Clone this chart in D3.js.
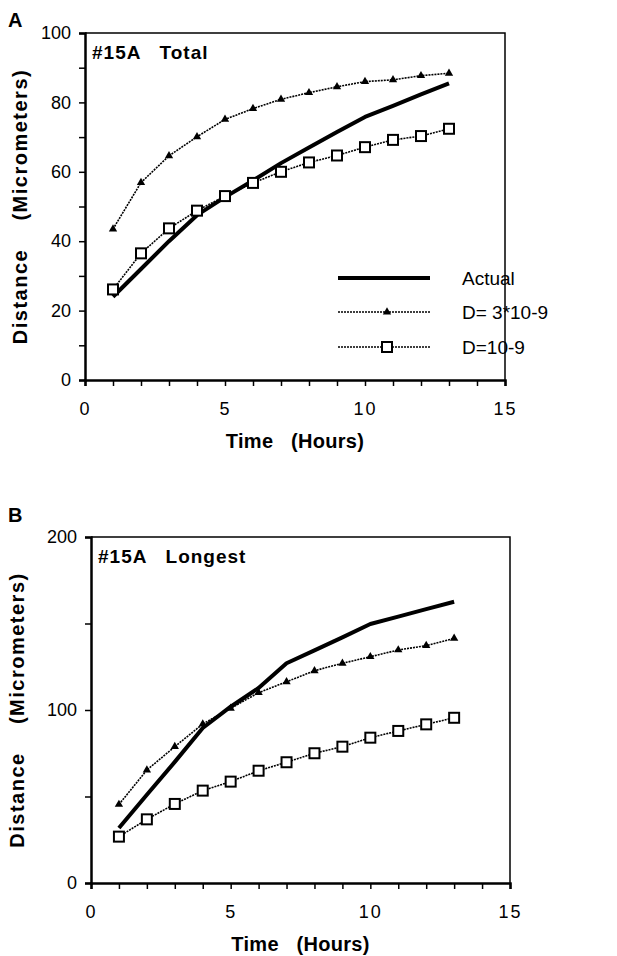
<html>
<head>
  <style>
    body { margin: 0; background: #fff; }
    text { font-family: "Liberation Sans", Arial, sans-serif; fill: #000; }
    .bold { font-weight: bold; white-space: pre; }
  </style>
</head>
<body>
<div id="chartContainer"></div>
<script src="https://cdn.jsdelivr.net/npm/d3@7"></script>
<script type="text/javascript">
  // hours, same for every series
  var hours = [1, 2, 3, 4, 5, 6, 7, 8, 9, 10, 11, 12, 13];

  // panel A - total distance
  var totalActual = [24, 32, 40, 47.5, 52.7, 57.5, 62.5, 67, 71.5, 75.8, 79, 82.3, 85.5];
  var totalD3 = [43.5, 56.9, 64.6, 70.1, 75.1, 78.2, 80.9, 82.8, 84.5, 86.0, 86.5, 87.7, 88.4];
  var totalD1 = [26.1, 36.5, 43.7, 48.8, 53.0, 56.8, 60.0, 62.7, 64.7, 67.1, 69.2, 70.3, 72.4];

  // panel B - longest distance
  var longestActual = [31.8, 51, 70, 89.6, 101.9, 112.7, 127, 134.5, 142, 149.7, 154, 158.3, 162.6];
  var longestD3 = [45.4, 65.3, 78.8, 91.9, 101, 110, 116.3, 122.7, 127, 130.8, 134.7, 137.2, 141.4];
  var longestD1 = [26.8, 36.8, 45.7, 53.4, 58.6, 64.9, 69.8, 75, 78.8, 84, 87.9, 91.7, 95.5];

  // tick labels
  var xLabels = [0, 5, 10, 15];
  var yLabelsA = [0, 20, 40, 60, 80, 100];
  var yLabelsB = [0, 100, 200];

  var legendNames = ["Actual", "D= 3*10-9", "D=10-9"];

  var svg = d3.select("#chartContainer").append("svg")
    .attr("width", 617).attr("height", 956);

  function drawPanel(opt) {
    var g = svg.append("g");
    var x = d3.scaleLinear().domain([0, 15]).range([opt.left, opt.left + opt.width]);
    var y = d3.scaleLinear().domain([0, opt.yMax]).range([opt.top + opt.height, opt.top]);

    // thin frame on top and right
    g.append("path")
      .attr("d", "M" + x(0) + "," + y(opt.yMax) + "H" + x(15) + "V" + y(0))
      .attr("fill", "none").attr("stroke", "#000").attr("stroke-width", 1.5);

    // y axis: major ticks labelled, minor ticks between
    var yAxis = d3.axisLeft(y).tickValues(d3.range(0, opt.yMax + 1, opt.yMinor))
      .tickSize(6).tickFormat(function (d) { return opt.yLabels.indexOf(d) >= 0 ? d : ""; });
    var ya = g.append("g").attr("transform", "translate(" + x(0) + ",0)").call(yAxis);
    ya.select(".domain").attr("stroke-width", 2.5);
    ya.selectAll(".tick line").attr("stroke-width", 1.5);
    ya.selectAll("text").style("font-size", "18px").attr("x", -14);

    var xAxis = d3.axisBottom(x).tickValues(d3.range(0, 16, 1)).tickSize(6)
      .tickFormat(function (d) { return xLabels.indexOf(d) >= 0 ? d : ""; });
    var xa = g.append("g").attr("transform", "translate(0," + y(0) + ")").call(xAxis);
    xa.select(".domain").attr("stroke-width", 2.5);
    xa.selectAll(".tick line").attr("stroke-width", 1.5);
    xa.selectAll("text").style("font-size", "18px").attr("dy", "1.45em").attr("letter-spacing", "2px");

    // panel letter and inner title
    g.append("text").attr("class", "bold").attr("x", 8).attr("y", opt.letterY)
      .style("font-size", "20px").text(opt.letter);
    g.append("text").attr("class", "bold").attr("x", x(0) + 7).attr("y", opt.top + 26)
      .style("font-size", "19px").style("letter-spacing", "1px").text(opt.title);

    // axis titles
    g.append("text").attr("class", "bold")
      .attr("transform", "translate(" + opt.titleX + "," + (opt.top + opt.height / 2) + ") rotate(-90)")
      .attr("text-anchor", "middle").style("font-size", "20px").style("letter-spacing", "1.5px")
      .text("Distance    (Micrometers)");
    g.append("text").attr("class", "bold")
      .attr("x", x(7.5)).attr("y", y(0) + 68).attr("text-anchor", "middle")
      .style("font-size", "20px").style("letter-spacing", "0.3px").text("Time   (Hours)");

    var line = d3.line().x(function (d, i) { return x(hours[i]); }).y(function (d) { return y(d); });

    // model curves, dotted
    g.append("path").datum(opt.d3).attr("d", line).attr("fill", "none")
      .attr("stroke", "#000").attr("stroke-width", 1.6).attr("stroke-dasharray", "2,1");
    g.append("path").datum(opt.d1).attr("d", line).attr("fill", "none")
      .attr("stroke", "#000").attr("stroke-width", 1.6).attr("stroke-dasharray", "2,1");

    // actual, thick solid
    g.append("path").datum(opt.actual).attr("d", line).attr("fill", "none")
      .attr("stroke", "#000").attr("stroke-width", 4).attr("stroke-linejoin", "round");

    var tri = d3.symbol().type(d3.symbolTriangle).size(30);
    g.selectAll(".tri").data(opt.d3).enter().append("path")
      .attr("transform", function (d, i) { return "translate(" + x(hours[i]) + "," + y(d) + ")"; })
      .attr("d", tri).attr("fill", "#000");

    g.selectAll(".sq").data(opt.d1).enter().append("rect")
      .attr("x", function (d, i) { return x(hours[i]) - 5; })
      .attr("y", function (d) { return y(d) - 5; })
      .attr("width", 10).attr("height", 10)
      .attr("fill", "#fff").attr("stroke", "#000").attr("stroke-width", 2);

    return g;
  }

  drawPanel({ left: 85, top: 33, width: 420, height: 347, yMax: 100, yMinor: 10,
    yLabels: yLabelsA, letter: "A", letterY: 27, titleX: 27, title: "#15A   Total",
    actual: totalActual, d3: totalD3, d1: totalD1 });

  drawPanel({ left: 91, top: 537, width: 419, height: 346, yMax: 200, yMinor: 50,
    yLabels: yLabelsB, letter: "B", letterY: 522, titleX: 24, title: "#15A   Longest",
    actual: longestActual, d3: longestD3, d1: longestD1 });

  // legend, only in panel A
  var leg = svg.append("g");
  var legY = [278, 312, 347];
  leg.selectAll(".ll").data(legendNames).enter().append("line")
    .attr("x1", 338).attr("x2", 430)
    .attr("y1", function (d, i) { return legY[i]; }).attr("y2", function (d, i) { return legY[i]; })
    .attr("stroke", "#000")
    .attr("stroke-width", function (d, i) { return i == 0 ? 4 : 1.6; })
    .attr("stroke-dasharray", function (d, i) { return i == 0 ? null : "2,1"; });
  leg.append("path").attr("d", d3.symbol().type(d3.symbolTriangle).size(30))
    .attr("transform", "translate(387," + legY[1] + ")");
  leg.append("rect").attr("x", 382).attr("y", legY[2] - 5).attr("width", 10).attr("height", 10)
    .attr("fill", "#fff").attr("stroke", "#000").attr("stroke-width", 2);
  leg.selectAll(".lt").data(legendNames).enter().append("text")
    .attr("x", 462).attr("y", function (d, i) { return legY[i] + 7; })
    .style("font-size", "19px").text(function (d) { return d; });
</script>
</body>
</html>
